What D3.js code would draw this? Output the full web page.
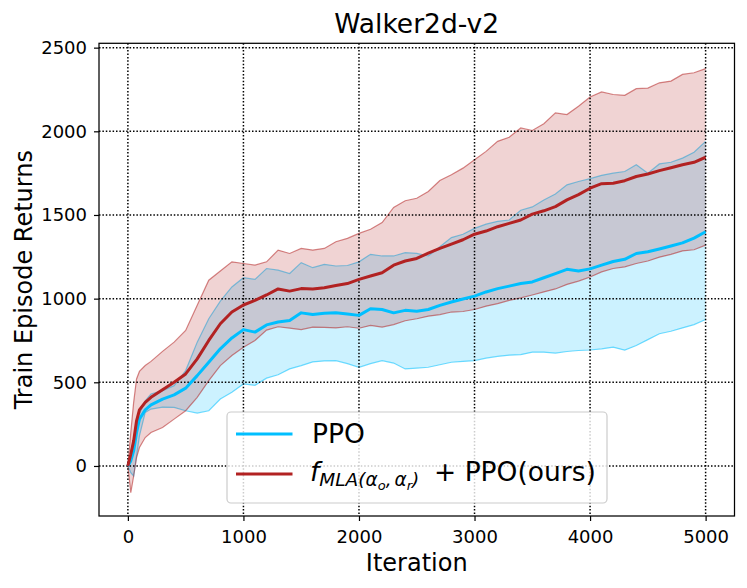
<!DOCTYPE html>
<html>
<head>
<meta charset="utf-8">
<script src="https://cdn.jsdelivr.net/npm/d3@7"></script>
<style>
  body { margin: 0; background: #fff; }
  svg { font-family: "DejaVu Sans", sans-serif; }
</style>
</head>
<body>
<div id="chart"></div>
<script>
var iterations = [0, 25, 50, 75, 100, 150, 200,
    300, 400, 500, 600, 700, 800, 900, 1000,
    1100, 1200, 1300, 1400, 1500, 1600, 1700, 1800, 1900, 2000,
    2100, 2200, 2300, 2400, 2500, 2600, 2700, 2800, 2900, 3000,
    3100, 3200, 3300, 3400, 3500, 3600, 3700, 3800, 3900, 4000,
    4100, 4200, 4300, 4400, 4500, 4600, 4700, 4800, 4900, 5000];

var ppoMean = [0, 30, 90, 200, 280, 335, 365,
    400, 425, 465, 540, 620, 700, 765, 815,
    800, 843, 860, 870, 915, 905, 912, 915, 908, 900,
    940, 935, 915, 930, 925, 935, 960, 980, 998, 1015,
    1040, 1060, 1075, 1090, 1100, 1125, 1150, 1175, 1165, 1178,
    1200, 1222, 1235, 1270, 1280, 1297, 1315, 1333, 1362, 1400];
var ppoHigh = [0, 40, 120, 230, 310, 390, 430,
    450, 480, 570, 740, 880, 985, 1070, 1125,
    1115, 1180, 1170, 1150, 1215, 1185, 1205, 1195, 1198, 1220,
    1265, 1255, 1255, 1275, 1270, 1255, 1310, 1365, 1385, 1420,
    1445, 1462, 1470, 1528, 1548, 1590, 1625, 1680, 1700, 1717,
    1737, 1750, 1760, 1800, 1750, 1805, 1815, 1840, 1875, 1940];
var ppoLow = [0, -40, -60, 60, 180, 320, 340,
    352, 350, 330, 316, 330, 400, 440, 490,
    482, 525, 545, 580, 600, 622, 628, 630, 612, 590,
    612, 630, 615, 580, 585, 590, 605, 620, 625, 630,
    645, 655, 662, 665, 680, 680, 675, 684, 690, 693,
    700, 710, 692, 720, 755, 790, 805, 825, 845, 875];

var mlaMean = [0, 70, 150, 270, 335, 380, 410,
    455, 500, 550, 640, 750, 850, 920, 962,
    990, 1022, 1058, 1045, 1060, 1058, 1065, 1078, 1090, 1115,
    1135, 1155, 1200, 1225, 1240, 1272, 1300, 1326, 1352, 1385,
    1404, 1430, 1450, 1470, 1505, 1525, 1550, 1590, 1622, 1660,
    1687, 1690, 1705, 1730, 1745, 1765, 1782, 1800, 1815, 1845];
var mlaHigh = [0, 200, 380, 520, 565, 600, 625,
    685, 740, 810, 960, 1110, 1165, 1220, 1210,
    1200, 1220, 1290, 1270, 1300, 1290, 1300, 1340, 1360, 1390,
    1415, 1455, 1545, 1585, 1600, 1640, 1706, 1740, 1780, 1830,
    1880, 1940, 1964, 2020, 2005, 2045, 2110, 2100, 2150, 2205,
    2235, 2220, 2215, 2255, 2258, 2290, 2300, 2340, 2350, 2375];
var mlaLow = [0, -160, -60, 50, 110, 170, 200,
    230, 280, 330, 410, 510, 600, 660, 710,
    750, 812, 832, 824, 815, 830, 828, 825, 832, 823,
    840, 830, 845, 868, 880, 895, 905, 920, 923, 935,
    955, 970, 990, 1005, 1022, 1040, 1058, 1085, 1105, 1129,
    1160, 1180, 1190, 1210, 1225, 1248, 1265, 1285, 1292, 1320];

var xTicks = [0, 1000, 2000, 3000, 4000, 5000];
var yTicks = [0, 500, 1000, 1500, 2000, 2500];

var ppoColour = "#00bfff";
var mlaColour = "#b22222";

var totalWidth = 747, totalHeight = 588;
var margin = { top: 43.3, right: 12.5, bottom: 72, left: 99 };
var width = totalWidth - margin.left - margin.right;
var height = totalHeight - margin.top - margin.bottom;

var svg = d3.select("#chart").append("svg")
    .attr("width", totalWidth)
    .attr("height", totalHeight);

var g = svg.append("g")
    .attr("transform", "translate(" + margin.left + "," + margin.top + ")");

var x = d3.scaleLinear().domain([-250, 5250]).range([0, width]);
var y = d3.scaleLinear().domain([-299, 2526]).range([height, 0]);

function rows(mean, low, high) {
    return iterations.map(function(it, i) {
        return { it: it, mean: mean[i], low: low[i], high: high[i] };
    });
}
var ppoData = rows(ppoMean, ppoLow, ppoHigh);
var mlaData = rows(mlaMean, mlaLow, mlaHigh);

var area = d3.area()
    .x(function(d) { return x(d.it); })
    .y0(function(d) { return y(d.low); })
    .y1(function(d) { return y(d.high); });
function lineOf(key) {
    return d3.line()
        .x(function(d) { return x(d.it); })
        .y(function(d) { return y(d[key]); });
}

g.append("clipPath").attr("id", "clip")
    .append("rect").attr("width", width).attr("height", height);
var bands = g.append("g").attr("clip-path", "url(#clip)");

// bands: ppo first, red on top
[[ppoData, ppoColour], [mlaData, mlaColour]].forEach(function(s) {
    bands.append("path")
        .attr("d", area(s[0]))
        .attr("fill", s[1])
        .attr("fill-opacity", 0.2);
    ["low", "high"].forEach(function(k) {
        bands.append("path")
            .attr("d", lineOf(k)(s[0]))
            .attr("fill", "none")
            .attr("stroke", s[1])
            .attr("stroke-opacity", 0.55)
            .attr("stroke-width", 1.2);
    });
});

// grid (above fills, below mean lines)
var grid = g.append("g");
xTicks.forEach(function(t) {
    grid.append("line")
        .attr("x1", x(t)).attr("x2", x(t))
        .attr("y1", 0).attr("y2", height);
});
yTicks.forEach(function(t) {
    grid.append("line")
        .attr("x1", 0).attr("x2", width)
        .attr("y1", y(t)).attr("y2", y(t));
});
grid.selectAll("line")
    .attr("stroke", "black")
    .attr("stroke-width", 1.5)
    .attr("stroke-dasharray", "1.5,1.9");

var means = g.append("g").attr("clip-path", "url(#clip)");
[[ppoData, ppoColour], [mlaData, mlaColour]].forEach(function(s) {
    means.append("path")
        .attr("d", lineOf("mean")(s[0]))
        .attr("fill", "none")
        .attr("stroke", s[1])
        .attr("stroke-width", 3)
        .attr("stroke-linejoin", "round");
});

// axes
var xAxis = d3.axisBottom(x).tickValues(xTicks).tickSize(5).tickPadding(9.5)
    .tickFormat(d3.format("d"));
var yAxis = d3.axisLeft(y).tickValues(yTicks).tickSize(5).tickPadding(7)
    .tickFormat(d3.format("d"));

var xAxisGroup = g.append("g")
    .attr("transform", "translate(0," + height + ")")
    .call(xAxis);
var yAxisGroup = g.append("g").call(yAxis);
[xAxisGroup, yAxisGroup].forEach(function(a) {
    a.select(".domain").remove();
    a.selectAll(".tick line").attr("stroke", "black").attr("stroke-width", 1.2);
    a.selectAll(".tick text")
        .attr("fill", "black")
        .style("font-family", "DejaVu Sans")
        .style("font-size", "18px");
});

g.append("rect")
    .attr("width", width).attr("height", height)
    .attr("fill", "none")
    .attr("stroke", "black")
    .attr("stroke-width", 1.25);

// labels
svg.append("text")
    .attr("x", margin.left + width / 2).attr("y", 33)
    .attr("text-anchor", "middle")
    .style("font-size", "26.5px")
    .text("Walker2d-v2");
svg.append("text")
    .attr("x", margin.left + width / 2).attr("y", 570.5)
    .attr("text-anchor", "middle")
    .style("font-size", "24px")
    .text("Iteration");
svg.append("text")
    .attr("transform", "translate(32," + (margin.top + height / 2) + ") rotate(-90)")
    .attr("text-anchor", "middle")
    .style("font-size", "24px")
    .text("Train Episode Returns");

// legend
var legend = svg.append("g");
legend.append("rect")
    .attr("x", 227).attr("y", 412)
    .attr("width", 380).attr("height", 91)
    .attr("rx", 4)
    .attr("fill", "white").attr("fill-opacity", 0.8)
    .attr("stroke", "#cccccc").attr("stroke-width", 1.2);

legend.append("line")
    .attr("x1", 236).attr("x2", 292.5).attr("y1", 434).attr("y2", 434)
    .attr("stroke", ppoColour).attr("stroke-width", 2.8);
legend.append("line")
    .attr("x1", 236).attr("x2", 292.5).attr("y1", 474).attr("y2", 474)
    .attr("stroke", mlaColour).attr("stroke-width", 2.8);

legend.append("text")
    .attr("x", 312).attr("y", 442.5)
    .style("font-size", "26.5px")
    .text("PPO");

var mla = legend.append("text")
    .attr("x", 310).attr("y", 481)
    .style("font-size", "26.5px");
mla.append("tspan").style("font-style", "italic").text("f");
mla.append("tspan").attr("dy", 5).style("font-style", "italic").style("font-size", "18.5px").text("MLA(α");
mla.append("tspan").attr("dy", 3.5).style("font-style", "italic").style("font-size", "13px").text("o");
mla.append("tspan").attr("dy", -3.5).style("font-style", "italic").style("font-size", "18.5px").text(",");
mla.append("tspan").attr("dx", 3).style("font-style", "italic").style("font-size", "18.5px").text("α");
mla.append("tspan").attr("dy", 3.5).style("font-style", "italic").style("font-size", "13px").text("r");
mla.append("tspan").attr("dy", -3.5).style("font-style", "italic").style("font-size", "18.5px").text(")");
legend.append("text")
    .attr("x", 434).attr("y", 481)
    .style("font-size", "26.5px")
    .text("+ PPO(ours)");
</script>
</body>
</html>
